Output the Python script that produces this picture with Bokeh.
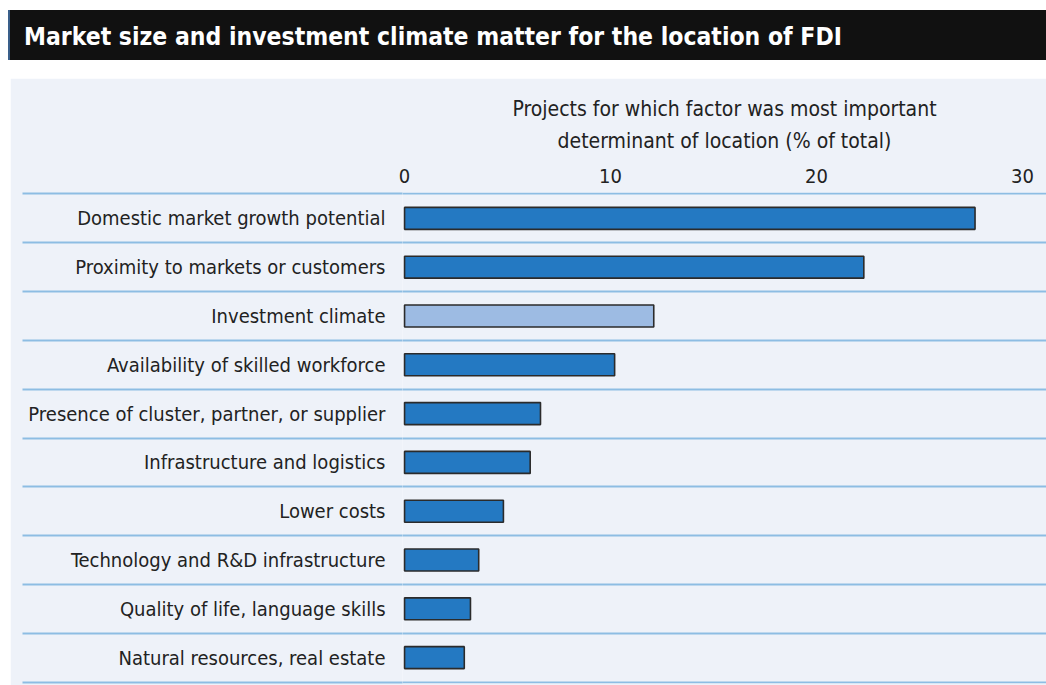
from bokeh.plotting import figure
from bokeh.models import Range1d, FixedTicker, ColumnDataSource, Div
from bokeh.layouts import column
from bokeh.embed import file_html
from bokeh.resources import INLINE

# ---- data ----
categories = [
    "Domestic market growth potential",
    "Proximity to markets or customers",
    "Investment climate",
    "Availability of skilled workforce",
    "Presence of cluster, partner, or supplier",
    "Infrastructure and logistics",
    "Lower costs",
    "Technology and R&D infrastructure",
    "Quality of life, language skills",
    "Natural resources, real estate",
]
values = [27.7, 22.3, 12.1, 10.2, 6.6, 6.1, 4.8, 3.6, 3.2, 2.9]
highlight = [False, False, True, False, False, False, False, False, False, False]
x_ticks = [0, 10, 20, 30]
title_text = "Market size and investment climate matter for the location of FDI"
axis_title = "Projects for which factor was most important\ndeterminant of location (% of total)"

FONT = "'Liberation Sans Narrow', 'Arial Narrow', 'DejaVu Sans Condensed', 'Roboto Condensed', Roboto, sans-serif"
PANEL = "#eef2f9"
SEP = "#8dbde3"
DARK = "#2479c2"
LIGHT = "#9dbbe3"

# ---- title bar ----
t = Div(
    text=(f'<div style="margin-top:10px;margin-left:8px;width:1038px;height:50px;'
          f'box-sizing:border-box;background:#111111;border-left:2px solid #3a5f8a;'
          f'color:white;font-family:{FONT.replace(chr(39), "")};font-weight:bold;font-size:24.5px;'
          f'line-height:54px;padding-left:14px;white-space:nowrap;overflow:hidden;">{title_text}</div>'),
    width=1046, height=60, margin=0,
)

# ---- main chart ----
n = len(categories)
idx = list(range(n))
src = ColumnDataSource(dict(
    y=idx, right=values,
    color=[LIGHT if h else DARK for h in highlight],
))

p = figure(width=1036, height=607, output_backend="svg", toolbar_location=None,
           x_range=Range1d(-0.1, 31.17), y_range=Range1d(n - 0.5 + 0.03, -0.5 - 0.03),
           x_axis_location="above",
           min_border_left=392, min_border_right=0, min_border_top=114, min_border_bottom=2)
p.margin = (0, 0, 0, 10)
p.background_fill_color = PANEL
p.border_fill_color = PANEL
p.outline_line_color = None

p.hbar(y="y", left=0, right="right", height=0.45, source=src,
       fill_color="color", line_color="#2b2b2b", line_width=1.6)

# x axis (top)
xa = p.xaxis[0]
xa.ticker = FixedTicker(ticks=x_ticks)
xa.axis_line_color = None
xa.major_tick_line_color = None
xa.minor_tick_line_color = None
xa.major_label_text_font = FONT
xa.major_label_text_font_size = "20px"
xa.major_label_text_color = "#222222"
xa.major_label_standoff = 4
xa.axis_label = axis_title
xa.axis_label_text_font = FONT
xa.axis_label_text_font_size = "21px"
xa.axis_label_text_font_style = "normal"
xa.axis_label_text_color = "#222222"
xa.axis_label_text_line_height = 1.3
xa.axis_label_standoff = 13

# y axis with row separators drawn as long minor ticks
boundaries = [i - 0.5 for i in range(n + 1)]
ya = p.yaxis[0]
ya.ticker = FixedTicker(ticks=idx, minor_ticks=boundaries)
ya.major_label_overrides = {i: c for i, c in enumerate(categories)}
ya.axis_line_color = None
ya.major_tick_line_color = None
ya.major_tick_out = 0
ya.major_tick_in = 0
ya.minor_tick_out = 380
ya.minor_tick_in = 0
ya.minor_tick_line_color = SEP
ya.minor_tick_line_width = 2
ya.major_label_text_font = FONT
ya.major_label_text_font_size = "20px"
ya.major_label_text_color = "#222222"
ya.major_label_standoff = 17 - 380

p.xgrid.visible = False
p.ygrid.ticker = FixedTicker(ticks=boundaries)
p.ygrid.grid_line_color = SEP
p.ygrid.grid_line_width = 2

layout = column(t, p, spacing=18)
open("out.html", "w").write(file_html(layout, INLINE))
